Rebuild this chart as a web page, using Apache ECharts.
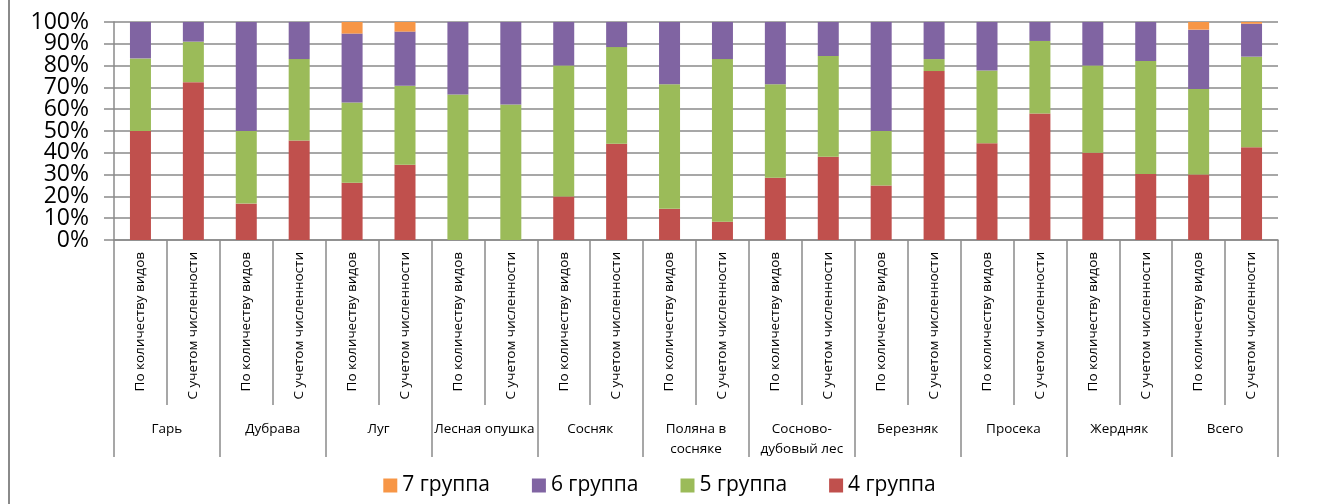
<!DOCTYPE html>
<html>
<head>
<meta charset="utf-8">
<script src="https://cdn.jsdelivr.net/npm/echarts@6/dist/echarts.min.js"></script>
<style>
  html, body { margin: 0; padding: 0; background: #fff; }
  #chart { width: 1319px; height: 504px; }
</style>
</head>
<body>
<div id="chart"></div>
<script>
// Habitats (group row of the x axis)
const groups = ['Гарь', 'Дубрава', 'Луг', 'Лесная опушка', 'Сосняк', 'Поляна в\nсосняке',
  'Сосново-\nдубовый лес', 'Березняк', 'Просека', 'Жердняк', 'Всего'];
// Two bars per habitat
const subLabels = ['По количеству видов', 'С учетом численности'];
const categories = groups.flatMap(() => subLabels);

// Share of each group, % (bottom to top: 4, 5, 6, 7)
const group4 = [50.0, 72.4, 16.7, 45.6, 26.3, 34.5, 0, 0, 20.0, 44.2, 14.3, 8.4,
  28.6, 38.2, 25.0, 77.5, 44.4, 58.0, 40.0, 30.3, 30.1, 42.5];
const group5 = [33.3, 18.6, 33.3, 37.4, 36.8, 36.3, 66.7, 62.2, 60.0, 44.3, 57.1, 74.6,
  42.8, 46.2, 25.0, 5.5, 33.4, 33.3, 40.0, 51.8, 39.2, 41.6];
const group6 = [16.7, 9.0, 50.0, 17.0, 31.6, 24.8, 33.3, 37.8, 20.0, 11.5, 28.6, 17.0,
  28.6, 15.6, 50.0, 17.0, 22.2, 8.7, 20.0, 17.9, 27.2, 15.1];
const group7 = [0, 0, 0, 0, 5.3, 4.4, 0, 0, 0, 0, 0, 0,
  0, 0, 0, 0, 0, 0, 0, 0, 3.5, 0.8];

const yTicks = [0, 10, 20, 30, 40, 50, 60, 70, 80, 90, 100];

const FONT = 'Open Sans';
const GRAY = '#8a8a8a';

const chart = echarts.init(document.getElementById('chart'), null, { renderer: 'canvas' });

function barSeries(name, data, color) {
  return {
    name, type: 'bar', stack: 'total', data,
    barWidth: 21,
    itemStyle: { color },
    emphasis: { disabled: true },
    xAxisIndex: 0, yAxisIndex: 0
  };
}

// The percent labels are split over two overlaid value axes (even / odd tens)
// so that the tightly packed labels are all kept.
function percentAxis(keepEven, main) {
  return {
    type: 'value',
    position: 'left',
    min: yTicks[0],
    max: yTicks[yTicks.length - 1],
    interval: 10,
    axisLine: { show: main, lineStyle: { color: GRAY, width: 1.5 } },
    axisTick: { show: main, length: 10, lineStyle: { color: GRAY, width: 1.5 } },
    axisLabel: {
      margin: 25, fontFamily: FONT, fontSize: 23, color: '#000',
      showMinLabel: true, showMaxLabel: true,
      formatter: v => ((v / 10) % 2 === 0) === keepEven ? v + '%' : ''
    },
    splitLine: { show: main, lineStyle: { color: GRAY, width: 1.5 } }
  };
}

chart.setOption({
  animation: false,
  textStyle: { fontFamily: FONT },
  grid: { left: 114, right: 41, top: 22, bottom: 264, containLabel: false },
  graphic: [{
    type: 'line', silent: true,
    shape: { x1: 9, y1: 0, x2: 9, y2: 504 },
    style: { stroke: GRAY, lineWidth: 2 }
  }],
  legend: {
    data: ['7 группа', '6 группа', '5 группа', '4 группа'],
    bottom: 3,
    left: 'center',
    itemWidth: 14,
    itemHeight: 14,
    itemGap: 42,
    icon: 'rect',
    textStyle: { fontFamily: FONT, fontSize: 21, color: '#000' }
  },
  xAxis: [
    {
      type: 'category',
      data: categories,
      position: 'bottom',
      axisLine: { show: true, lineStyle: { color: GRAY, width: 1.5 } },
      axisTick: { show: true, length: 165, lineStyle: { color: GRAY, width: 1.5 } },
      axisLabel: {
        interval: 0, rotate: 90, margin: 12,
        fontFamily: FONT, fontSize: 13.5, color: '#000'
      },
      splitLine: { show: false }
    },
    {
      type: 'category',
      data: groups,
      position: 'bottom',
      axisLine: { show: false },
      axisTick: { show: true, length: 217, lineStyle: { color: GRAY, width: 1.5 } },
      axisLabel: {
        interval: 0, margin: 179, lineHeight: 20,
        fontFamily: FONT, fontSize: 13.5, color: '#000'
      },
      splitLine: { show: false }
    }
  ],
  yAxis: [percentAxis(true, true), percentAxis(false, false)],
  series: [
    barSeries('4 группа', group4, '#C0504D'),
    barSeries('5 группа', group5, '#9BBB59'),
    barSeries('6 группа', group6, '#8064A2'),
    barSeries('7 группа', group7, '#F79646')
  ]
});
</script>
</body>
</html>
